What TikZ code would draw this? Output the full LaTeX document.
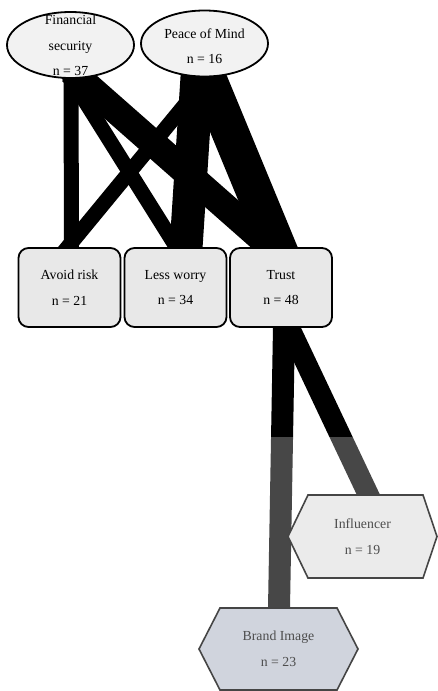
\documentclass[tikz,border=0pt]{standalone}
\usepackage{fontspec}
\setmainfont{Liberation Serif}
\usetikzlibrary{shapes.geometric}
\pgfdeclarelayer{bandlayer}
\pgfdeclarelayer{fadelayer}
\pgfdeclarelayer{hexlayer}
\pgfsetlayers{bandlayer,fadelayer,hexlayer,main}
\definecolor{ellfill}{HTML}{F2F2F2}
\definecolor{boxfill}{HTML}{E8E8E8}
\definecolor{infill}{HTML}{EBEBEB}
\definecolor{brfill}{HTML}{D0D4DD}
\definecolor{hexline}{HTML}{454545}
\definecolor{hextext}{HTML}{4D4D4D}
\begin{document}
\begin{tikzpicture}[x=1pt,y=-1pt,
  txt/.style={font=\fontsize{13.8}{25.5}\selectfont, align=center, inner sep=0pt, outer sep=0pt},
  oval/.style={ellipse, draw=black, line width=1.8pt, fill=ellfill, minimum width=127pt, minimum height=66pt, inner sep=0pt},
  boxnode/.style={txt, rectangle, rounded corners=10pt, draw=black, line width=1.8pt, fill=boxfill, minimum width=102pt, minimum height=79pt},
  hexnode/.style={txt, text=hextext, rectangle, minimum width=#1, minimum height=83pt},
  hexshape/.style={draw=hexline, line width=1.6pt, line join=miter},
  band/.style={draw=black, line width=#1, shorten <=-12pt, shorten >=-12pt}
]
\useasboundingbox (0,0) rectangle (438,691);

% top ellipses
\node[oval] (F) at (70.5,45) {};
\node[txt] (Ft) at (70.5,45.5) {Financial\\security\\n = 37};
\node[oval] (P) at (204.5,43.5) {};
\node[txt] (Pt) at (204.5,46) {Peace of Mind\\n = 16};

% middle boxes
\node[boxnode] (AR) at (69.5,287.5) {Avoid risk\\n = 21};
\node[boxnode] (LW) at (175.5,287.5) {Less worry\\n = 34};
\node[boxnode] (T) at (281,287.5) {Trust\\n = 48};

% bottom hexagons
\node[hexnode=149pt] (I) at (362.5,536.5) {Influencer\\n = 19};
\node[hexnode=159pt, minimum height=82pt] (B) at (278.5,649) {Brand Image\\n = 23};

\begin{pgfonlayer}{hexlayer}
\draw[hexshape, fill=infill] (I.west) -- ([xshift=20pt]I.north west) -- ([xshift=-14pt]I.north east) -- (I.east) -- ([xshift=-14pt]I.south east) -- ([xshift=20pt]I.south west) -- cycle;
\draw[hexshape, fill=brfill] (B.west) -- ([xshift=21pt]B.north west) -- ([xshift=-21pt]B.north east) -- (B.east) -- ([xshift=-21pt]B.south east) -- ([xshift=21pt]B.south west) -- cycle;
\end{pgfonlayer}

% background and connectors
\begin{pgfonlayer}{bandlayer}
\fill[white] (0,0) rectangle (438,691);
\draw[band=15pt] ([xshift=0.5pt]F.south) -- ([xshift=2pt]AR.north);
\draw[band=15pt] ([xshift=0.5pt]F.south) -- ([xshift=1.5pt]LW.north);
\draw[band=27pt] ([xshift=9.5pt]F.south) -- ([xshift=-9pt]T.north);
\draw[band=15pt] ([xshift=3pt]P.south) -- ([xshift=-2.5pt]AR.north);
\draw[band=33pt] ([xshift=-7.5pt]P.south) -- ([xshift=10.5pt]LW.north);
\draw[band=37pt] ([xshift=3pt]P.south) -- ([xshift=-3pt]T.north);
\draw[band=22pt] ([xshift=3pt]T.south) -- ([xshift=0.5pt]B.north);
\draw[band=21pt] ([xshift=8pt]T.south) -- ([xshift=6pt]I.north);
\end{pgfonlayer}

% faded lower part
\begin{pgfonlayer}{fadelayer}
\fill[white, fill opacity=0.28] (0,437) rectangle (438,691);
\end{pgfonlayer}
\end{tikzpicture}
\end{document}
